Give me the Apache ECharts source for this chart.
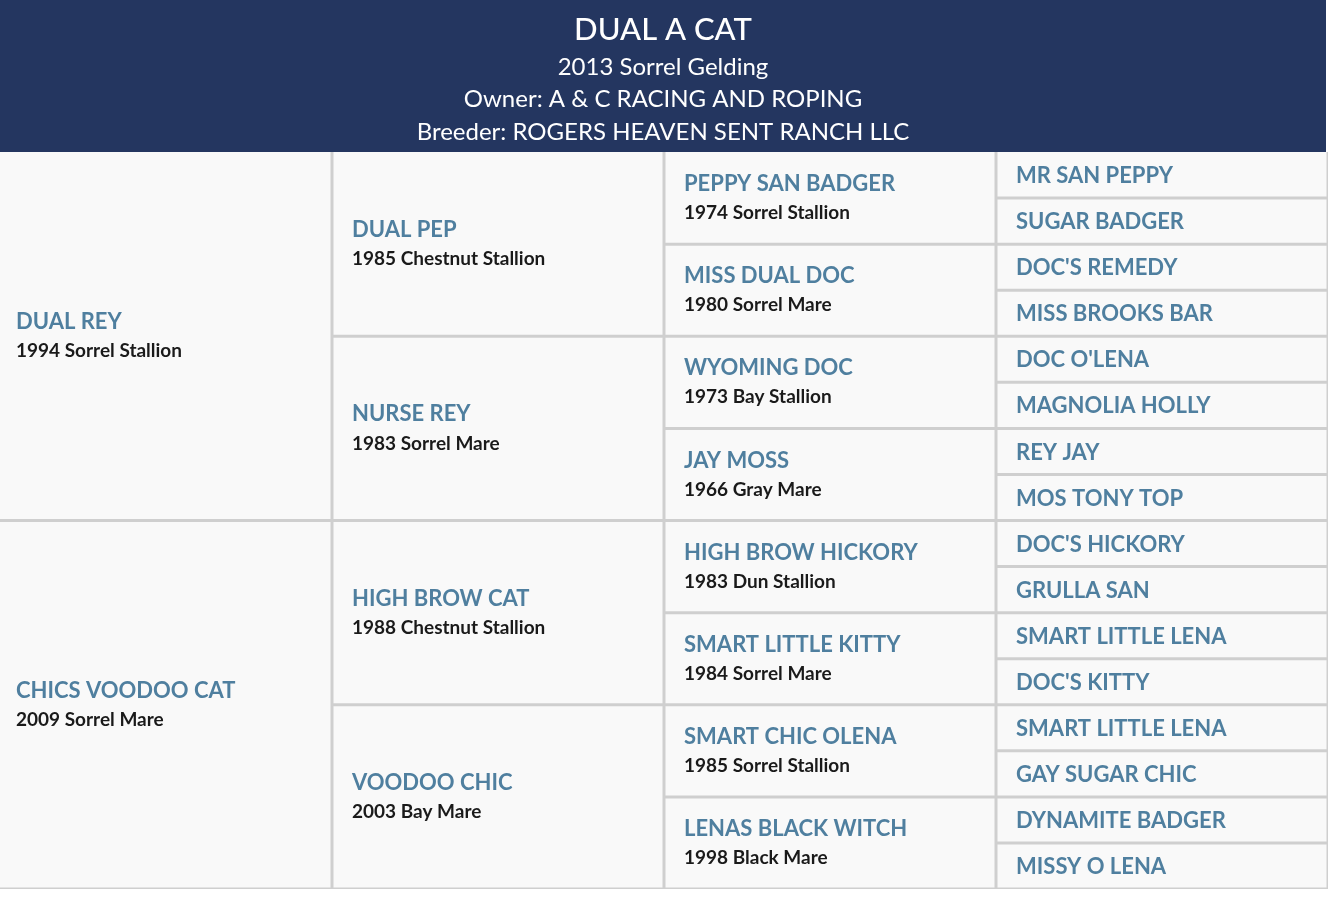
<!DOCTYPE html>
<html><head><meta charset="utf-8">
<script src="https://cdn.jsdelivr.net/npm/echarts@6/dist/echarts.min.js"></script>
<style>html,body{margin:0;padding:0;background:#fff}#c{width:1332px;height:898px}</style>
</head><body><div id="c"></div>
<script>
const headerLines = ['DUAL A CAT','2013 Sorrel Gelding','Owner: A & C RACING AND ROPING','Breeder: ROGERS HEAVEN SENT RANCH LLC'];
const gen1Names = ['DUAL REY','CHICS VOODOO CAT'];
const gen1Desc = ['1994 Sorrel Stallion','2009 Sorrel Mare'];
const gen2Names = ['DUAL PEP','NURSE REY','HIGH BROW CAT','VOODOO CHIC'];
const gen2Desc = ['1985 Chestnut Stallion','1983 Sorrel Mare','1988 Chestnut Stallion','2003 Bay Mare'];
const gen3Names = ['PEPPY SAN BADGER','MISS DUAL DOC','WYOMING DOC','JAY MOSS','HIGH BROW HICKORY','SMART LITTLE KITTY','SMART CHIC OLENA','LENAS BLACK WITCH'];
const gen3Desc = ['1974 Sorrel Stallion','1980 Sorrel Mare','1973 Bay Stallion','1966 Gray Mare','1983 Dun Stallion','1984 Sorrel Mare','1985 Sorrel Stallion','1998 Black Mare'];
const gen4Names = ['MR SAN PEPPY','SUGAR BADGER',"DOC'S REMEDY",'MISS BROOKS BAR',"DOC O'LENA",'MAGNOLIA HOLLY','REY JAY','MOS TONY TOP',"DOC'S HICKORY",'GRULLA SAN','SMART LITTLE LENA',"DOC'S KITTY",'SMART LITTLE LENA','GAY SUGAR CHIC','DYNAMITE BADGER','MISSY O LENA'];

const gens = [[gen1Names,gen1Desc],[gen2Names,gen2Desc],[gen3Names,gen3Desc],[gen4Names,null]];
const cells = [];
gens.forEach((g,col)=>{
  const n = g[0].length, span = 16/n;
  g[0].forEach((name,i)=>{
    cells.push({value:[col,i*span,(i+1)*span], name:name, desc:g[1]?g[1][i]:''});
  });
});

const chart = echarts.init(document.getElementById('c'));
chart.setOption({
  backgroundColor:'#fff',
  animation:false,
  grid:{left:0,top:152,width:1328,bottom:9,show:true,backgroundColor:'#cfcfcf',borderWidth:0},
  xAxis:{type:'value',min:0,max:4,show:false},
  yAxis:{type:'value',min:0,max:16,inverse:true,show:false},
  graphic:[
    {type:'rect',shape:{x:0,y:0,width:1326,height:152},style:{fill:'#243660'},z:10},
    ...headerLines.map((t,i)=>({type:'text',x:663,y:[30,67,99,132][i],z:11,
      style:{text:t,fill:'#fff',align:'center',verticalAlign:'middle',
        font:(i===0?'500 31px':'400 24px')+' Lato, "Noto Sans", sans-serif'}}))
  ],
  series:[{
    type:'custom',
    data:cells.map(c=>({value:c.value,name:c.name,desc:c.desc})),
    renderItem:function(params,api){
      const d = cells[params.dataIndex];
      const col=api.value(0), r0=api.value(1), r1=api.value(2);
      const p0=api.coord([col,r0]), p1=api.coord([col+1,r1]);
      const x=p0[0]+(col===0?0:1.5), y=p0[1]+(r0===0?0:1.5);
      const w=p1[0]-p0[0]-(col===0?1.5:3), h=p1[1]-p0[1]-(r0===0?1.5:3);
      const cy=(p0[1]+p1[1])/2;
      const tx=p0[0]+(col===0?16:20);
      const ch=[{type:'rect',shape:{x:x,y:y,width:w,height:h},style:{fill:'#f9f9f9'}}];
      if(d.desc){
        ch.push({type:'text',style:{x:tx,y:cy-14,text:d.name,fill:'#4f7f9f',verticalAlign:'middle',font:'bold 22px Lato, "Noto Sans", sans-serif'}});
        ch.push({type:'text',style:{x:tx,y:cy+15,text:d.desc,fill:'#1a1a1a',verticalAlign:'middle',font:'bold 19px Lato, "Noto Sans", sans-serif'}});
      } else {
        ch.push({type:'text',style:{x:tx,y:cy+1,text:d.name,fill:'#4f7f9f',verticalAlign:'middle',font:'bold 22px Lato, "Noto Sans", sans-serif'}});
      }
      return {type:'group',children:ch};
    }
  }]
});
</script></body></html>
